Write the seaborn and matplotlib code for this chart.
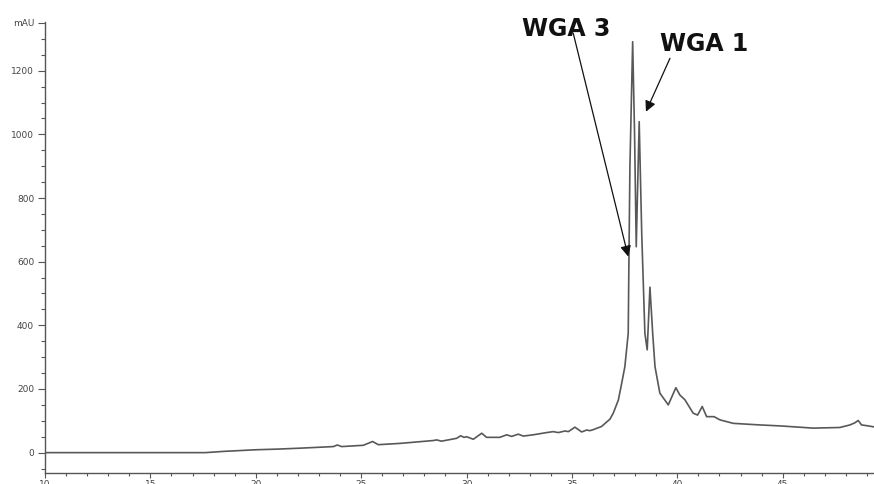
import matplotlib
matplotlib.use("Agg")
import matplotlib.pyplot as plt
import seaborn as sns
import pandas as pd
from matplotlib.ticker import MultipleLocator, FixedLocator

# Retention time (min) and absorbance (mAU)
time_min = [10.0, 14.0, 17.6, 18.5, 20.0, 21.0, 22.1, 23.68, 23.87, 24.07,
            25.1, 25.54, 25.81, 26.84, 28.42, 28.58, 28.81, 29.53, 29.72, 29.88,
            30.0, 30.32, 30.72, 30.95, 31.58, 31.9, 32.14, 32.45, 32.69, 33.16,
            33.8, 34.11, 34.35, 34.67, 34.83, 35.14, 35.46, 35.7, 35.85, 36.0,
            36.4, 36.8, 36.96, 37.2, 37.36, 37.51, 37.67, 37.70, 37.75, 37.88,
            37.97, 38.05, 38.19, 38.31, 38.46, 38.57, 38.70, 38.83, 38.94, 39.17,
            39.57, 39.93, 40.12, 40.36, 40.75, 40.96, 41.18, 41.39, 41.74, 42.02,
            42.65, 43.92, 44.87, 46.45, 47.71, 48.19, 48.43, 48.58, 48.74, 49.06,
            49.4]
signal_mau = [0, 0, 0, 4, 9, 11, 14, 19, 24, 19,
              23, 35, 25, 29, 38, 40, 36, 45, 53, 48,
              50, 42, 61, 48, 48, 56, 51, 58, 52, 56,
              63, 66, 63, 68, 66, 80, 65, 71, 69, 72,
              82, 105, 124, 165, 218, 270, 375, 584, 898, 1291,
              1003, 647, 1040, 689, 375, 323, 520, 375, 270, 187,
              150, 204, 181, 166, 124, 118, 145, 113, 113, 103,
              92, 87, 84, 77, 79, 87, 94, 101, 87, 84,
              80]

y_ticks = [0, 200, 400, 600, 800, 1000, 1200, 1350]
y_tick_labels = ["0", "200", "400", "600", "800", "1000", "1200", "mAU"]
x_ticks = [10, 15, 20, 25, 30, 35, 40, 45]
x_tick_labels = ["10", "15", "20", "25", "30", "35", "40", "45"]

labels = ["WGA 3", "WGA 1"]
label_pos = [(34.72, 1330), (41.26, 1285)]
arrow_start = [(35.06, 1318), (39.65, 1239)]
arrow_tip = [(37.67, 616), (38.51, 1071)]

df = pd.DataFrame({"time": time_min, "signal": signal_mau})

sns.set_style("white")
plt.rcParams["font.family"] = ["DejaVu Sans"]

fig = plt.figure(figsize=(8.74, 4.84), dpi=100)
ax = fig.add_axes([45 / 874, 11 / 484, (874 - 45) / 874, (473 - 21.7) / 484])

sns.lineplot(data=df, x="time", y="signal", ax=ax, color="#585858",
             linewidth=1.2, estimator=None, sort=False)

ax.set_xlim(10, 49.33)
ax.set_ylim(-64, 1354)
ax.set_xlabel("")
ax.set_ylabel("")

for s in ["top", "right"]:
    ax.spines[s].set_visible(False)
for s in ["left", "bottom"]:
    ax.spines[s].set_color("#555555")
    ax.spines[s].set_linewidth(1.0)

ax.yaxis.set_major_locator(FixedLocator(y_ticks))
ax.set_yticklabels(y_tick_labels)
ax.yaxis.set_minor_locator(MultipleLocator(50))
ax.xaxis.set_major_locator(FixedLocator(x_ticks))
ax.set_xticklabels(x_tick_labels)
ax.xaxis.set_minor_locator(MultipleLocator(1))

ax.tick_params(axis="y", which="major", direction="out", length=4.8, width=0.8,
               color="#555555", labelsize=6.5, labelcolor="#444444", pad=3, left=True)
ax.tick_params(axis="y", which="minor", direction="out", length=3.0, width=0.8,
               color="#555555", left=True)
ax.tick_params(axis="x", which="major", direction="out", length=3.8, width=0.8,
               color="#555555", labelsize=6.5, labelcolor="#444444", pad=1, bottom=True)
ax.tick_params(axis="x", which="minor", direction="out", length=2.2, width=0.8,
               color="#555555", bottom=True)

for lab, pos, st, tip in zip(labels, label_pos, arrow_start, arrow_tip):
    ax.text(pos[0], pos[1], lab, ha="center", va="center", fontsize=17,
            fontweight="bold", color="#111111", clip_on=False)
    ax.annotate("", xy=tip, xytext=st,
                arrowprops=dict(arrowstyle="-|>", color="#111111", lw=0.9,
                                mutation_scale=16, shrinkA=0, shrinkB=0),
                annotation_clip=False)

fig.savefig("out.png", dpi=100)
